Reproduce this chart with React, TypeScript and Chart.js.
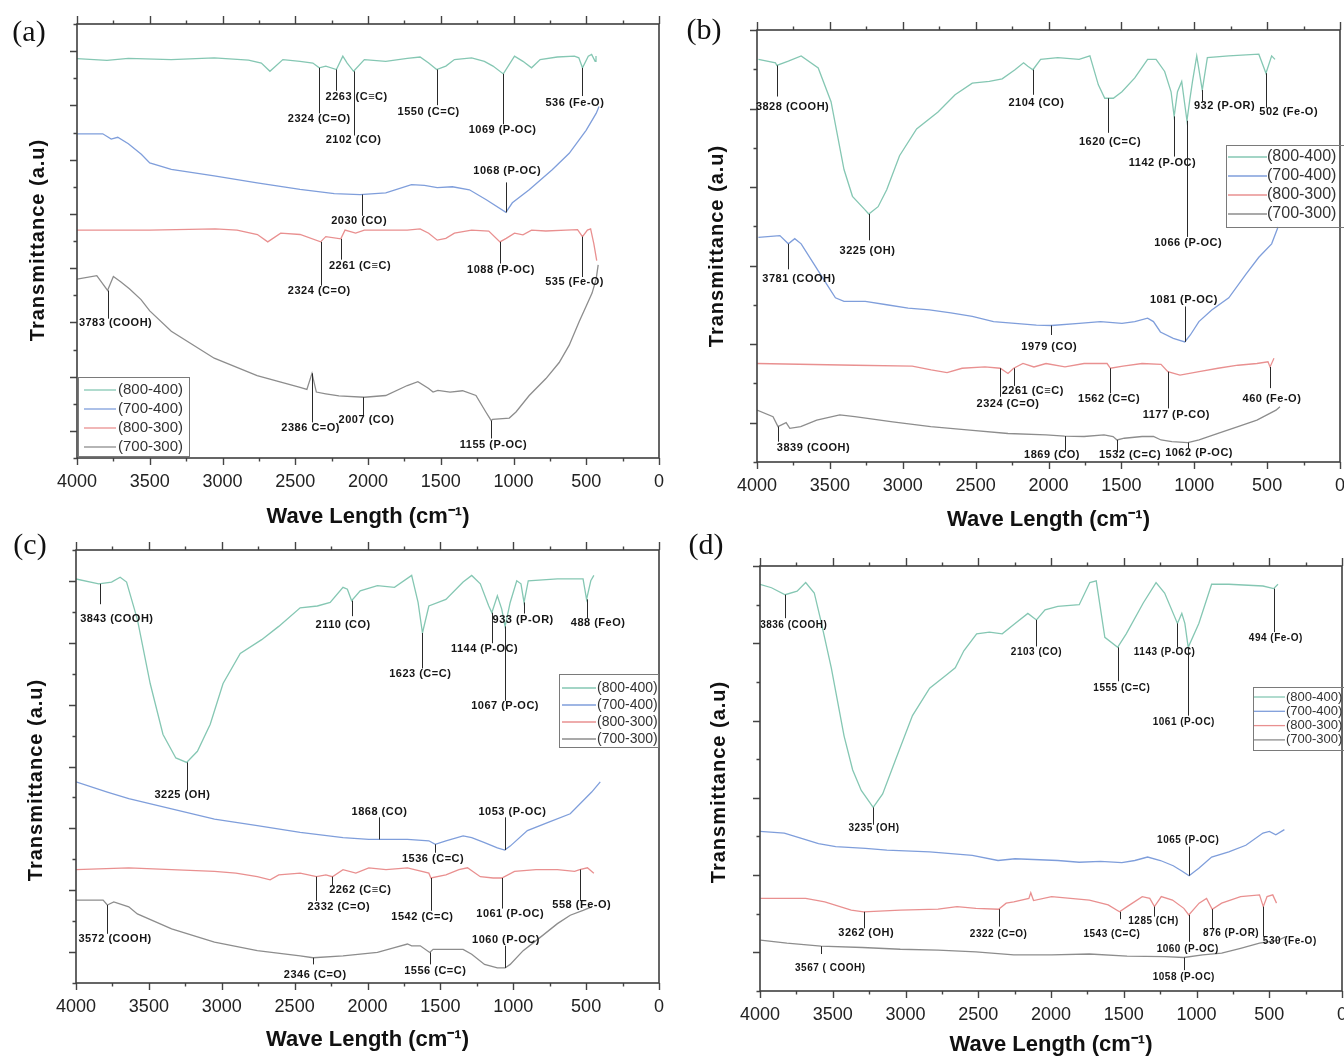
import React, { useEffect, useRef } from 'react';
import { Chart, registerables } from 'chart.js';

Chart.register(...registerables);

type Pt = [number, number];
// [line wavenumber, line start value, line end value, text, text centre wavenumber, text centre value, bold?]
type Ann = [number, number, number, string, number, number, boolean?];

const SERIES_LABELS = ['(800-400)', '(700-400)', '(800-300)', '(700-300)'];
const SERIES_COLORS = ['#85c7b3', '#7f9edb', '#e99090', '#8d8d8d'];
const X_MIN = 0;
const X_MAX = 4000;
const X_TICK_STEP = 250;
const X_LABEL_STEP = 500;
const X_TITLE = 'Wave Length (cm\u207B\u00B9)';
const Y_TITLE = 'Transmittance (a.u)';

// ---------- Panel (a) ----------
const A_800_400: Pt[] = [[4000,92],[3794,91.6],[3647,92.1],[3352,91.8],[3057,92.2],[2821,91.7],[2733,91],[2674,89.1],[2585,91.8],[2467,91.4],[2379,91],[2335,89.9],[2290,90.3],[2217,89.5],[2173,92.6],[2143,91],[2099,89.1],[2025,91.8],[1878,91.4],[1730,92.1],[1642,92.4],[1583,91],[1528,89.5],[1465,90.3],[1406,91.8],[1288,92.2],[1200,91.4],[1141,90.3],[1070,88.5],[993,92.6],[935,91.4],[876,89.9],[817,91.8],[699,92.4],[581,92.6],[551,92.2],[526,89.9],[486,92.6],[463,93],[439,91.4],[433,92.6]];
const A_700_400: Pt[] = [[4000,74.7],[3823,74.7],[3765,73.5],[3720,73.9],[3647,72.4],[3558,70],[3500,68],[3352,66.5],[3057,65],[2762,63.4],[2467,61.9],[2232,60.9],[2055,60.7],[1878,61.1],[1701,63],[1612,62.8],[1524,62.3],[1420,62.5],[1303,61.8],[1187,59.5],[1052,56.6],[1008,58.8],[892,61.8],[734,66.4],[617,70.2],[501,75.5],[432,79.4],[412,81]];
const A_800_300: Pt[] = [[4000,52.5],[3500,52.5],[3050,52.8],[2900,52.5],[2760,51.5],[2689,49.8],[2600,51.8],[2467,51.5],[2326,49.8],[2290,51],[2187,50.5],[2158,52.5],[2085,51.8],[2025,52.5],[1878,52.5],[1730,52.5],[1642,52.8],[1583,51.8],[1524,50.2],[1465,50.6],[1406,51.8],[1288,52.5],[1170,52.3],[1093,49.8],[1050,50.6],[993,51.8],[935,51.4],[876,52.5],[778,52.3],[640,52.5],[560,52.6],[526,51],[492,52.5],[470,52.8],[448,49.4],[428,45.5]];
const A_700_300: Pt[] = [[4000,41.2],[3864,42],[3790,38.6],[3750,41.8],[3700,40.6],[3640,39],[3560,36.5],[3500,33.9],[3352,29.2],[3057,23],[2762,19],[2467,16.3],[2420,15.8],[2385,19.5],[2355,15.2],[2290,14.8],[2200,14.3],[2025,14],[1878,14.4],[1730,16.7],[1657,17.6],[1583,16],[1553,15.2],[1520,15.6],[1436,15.2],[1350,15.5],[1258,14.4],[1190,10.6],[1153,8.6],[1144,8.9],[1029,9.2],[983,10.6],[892,14.4],[777,18.3],[686,22],[617,26],[549,31.4],[500,35],[460,38],[432,41.2],[418,44.5]];
const A_ANN: Ann[] = [
  [2335, 89.9, 79.4, '2324 (C=O)', 2335, 78.2],
  [2217, 89.5, 84.6, '2263 (C\u2261C)', 2078, 83.3],
  [2099, 89.1, 74.3, '2102 (CO)', 2099, 73.2],
  [1528, 89.5, 81.3, '1550 (C=C)', 1583, 79.8],
  [1070, 88.5, 76.9, '1069 (P-OC)', 1075, 75.6],
  [526, 89.9, 83.4, '536 (Fe-O)', 578, 81.9],
  [1052, 56.6, 63.5, '1068 (P-OC)', 1043, 66.2],
  [2040, 60.7, 55.8, '2030 (CO)', 2061, 54.7],
  [2326, 49.8, 39.7, '2324 (C=O)', 2335, 38.4],
  [2187, 50.5, 45.7, '2261 (C\u2261C)', 2055, 44.2],
  [1093, 49.8, 44.8, '1088 (P-OC)', 1086, 43.4],
  [526, 51, 41.7, '535 (Fe-O)', 580, 40.5],
  [3790, 38.6, 32.1, '3783 (COOH)', 3735, 31.1],
  [2385, 19.5, 8.2, '2386 C=O)', 2394, 7],
  [2031, 14, 9.9, '2007 (CO)', 2010, 8.7],
  [1153, 8.6, 4.5, '1155 (P-OC)', 1138, 3],
];

// ---------- Panel (b) ----------
const B_800_400: Pt[] = [[3990,93.2],[3873,92.4],[3864,91.8],[3785,92.8],[3697,94],[3580,91.2],[3492,83.4],[3403,67.7],[3345,61.5],[3257,58.3],[3233,57.4],[3169,59.1],[3110,63],[3022,70.9],[2905,77.1],[2758,81],[2641,85],[2523,87.7],[2406,88.1],[2318,88.7],[2230,90.8],[2171,92.4],[2142,91.6],[2107,90.8],[2054,93.2],[1936,93.6],[1790,93.2],[1716,94],[1658,87.3],[1614,84.2],[1590,84.2],[1555,84.2],[1496,85.7],[1408,88.9],[1320,93.2],[1262,93.2],[1203,90.4],[1159,85.7],[1138,80],[1115,85.7],[1086,88.1],[1062,82],[1050,79],[1030,84],[1012,88.1],[983,94],[945,86.1],[910,93.6],[763,94],[557,94.4],[508,90],[469,94],[446,93.2]];
const B_700_400: Pt[] = [[3990,52],[3843,52.4],[3785,50.5],[3741,51.7],[3697,50.5],[3609,45.8],[3521,41.1],[3462,38],[3403,37.2],[3257,37.2],[3110,36.4],[2963,35.6],[2817,35.2],[2670,34.5],[2523,33.7],[2377,32.5],[2230,32.1],[2083,31.7],[1980,31.6],[1790,32.1],[1643,32.5],[1496,32.1],[1408,32.5],[1320,33.3],[1280,32.5],[1232,30.1],[1144,28.6],[1065,27.8],[1027,29.4],[968,32.5],[880,35.2],[763,38],[645,43.5],[557,47.4],[469,50.5],[425,54.4]];
const B_800_300: Pt[] = [[4000,22.8],[3327,22.4],[2935,22.2],[2805,21.3],[2696,20.7],[2593,21.7],[2436,22.0],[2331,21.7],[2278,20.5],[2239,21.7],[2175,22.8],[2100,22.0],[2017,22.8],[1887,22.0],[1756,22.8],[1598,22.8],[1575,21.7],[1489,22.2],[1358,22.8],[1228,22.6],[1181,20.9],[1098,20.1],[967,20.9],[837,21.7],[700,22.4],[570,22.8],[494,23.2],[480,22.0],[453,24.0]];
const B_700_300: Pt[] = [[4000,12.0],[3890,10.5],[3856,8.2],[3800,9.1],[3775,7.8],[3700,8.2],[3590,9.7],[3432,10.9],[3329,10.5],[3069,9.3],[2808,8.2],[2540,7.4],[2278,6.6],[2017,6.3],[1890,6.0],[1756,5.9],[1619,6.3],[1557,5.9],[1530,5.1],[1480,5.5],[1358,5.9],[1280,5.9],[1228,5.1],[1153,4.7],[1044,4.5],[967,5.1],[837,6.6],[700,8.2],[570,9.7],[439,12.0],[412,12.8]];
const B_ANN: Ann[] = [
  [3864, 91.8, 84.6, '3828 (COOH)', 3756, 82.2],
  [3233, 57.4, 51.3, '3225 (OH)', 3242, 48.9],
  [2107, 90.8, 85, '2104 (CO)', 2083, 83],
  [1590, 84.2, 76.2, '1620 (C=C)', 1578, 74],
  [1138, 80, 70.7, '1142 (P-OC)', 1218, 69.3],
  [1050, 79, 52.1, '1066 (P-OC)', 1042, 50.7],
  [945, 86.1, 83.4, '932 (P-OR)', 792, 82.5],
  [508, 90, 82, '502 (Fe-O)', 352, 81],
  [3785, 50.5, 44.6, '3781 (COOH)', 3712, 42.3],
  [1980, 31.6, 29.4, '1979 (CO)', 1995, 26.6],
  [1065, 27.8, 36, '1081 (P-OC)', 1071, 37.6],
  [2331, 21.7, 15.1, '2324 (C=O)', 2278, 13.4],
  [2239, 21.7, 17.6, '2261 (C\u2261C)', 2108, 16.5],
  [1575, 21.7, 15.9, '1562 (C=C)', 1584, 14.7],
  [1181, 20.9, 12.4, '1177 (P-CO)', 1123, 10.9],
  [480, 22, 17.1, '460 (Fe-O)', 467, 14.7],
  [3856, 8.2, 4.7, '3839 (COOH)', 3612, 3.2],
  [1890, 6, 2.3, '1869 (CO)', 1976, 1.6],
  [1530, 5.1, 2.3, '1532 (C=C)', 1441, 1.6],
  [1044, 4.5, 3.2, '1062 (P-OC)', 967, 2.1],
];

// ---------- Panel (c) ----------
const C_800_400: Pt[] = [[4000,91.2],[3844,90.1],[3756,90.5],[3697,91.6],[3653,90.5],[3579,82.1],[3491,67.6],[3403,56.1],[3315,50.8],[3241,49.8],[3167,52.3],[3079,58.4],[2991,67.6],[2873,74.4],[2726,77.5],[2609,80.5],[2462,84.7],[2344,85.1],[2256,85.9],[2168,89.3],[2138,88.9],[2109,86.3],[2050,88.5],[1932,89.7],[1815,89.3],[1697,92],[1653,85.9],[1623,79],[1579,85.1],[1462,86.6],[1344,90.5],[1285,92],[1226,90.1],[1168,85.1],[1147,83.6],[1109,87.4],[1079,84.4],[1056,80.5],[1021,85.9],[976,90.8],[947,90.1],[926,85.9],[897,90.8],[697,91.2],[521,91.2],[497,86.6],[468,90.8],[447,92]];
const C_700_400: Pt[] = [[4000,45.4],[3785,43.1],[3638,41.6],[3344,39.3],[3050,37],[2756,35.5],[2462,34],[2168,32.8],[1991,32.4],[1918,32.4],[1726,32.4],[1579,32.1],[1535,31.3],[1462,32.1],[1344,33.2],[1285,32.8],[1197,31.7],[1109,30.5],[1059,30],[1021,30.9],[903,34.4],[756,36.3],[609,38.2],[462,43.1],[403,45.4]];
const C_800_300: Pt[] = [[4000,25.6],[3638,26],[3344,25.6],[3050,25.2],[2903,24.8],[2756,24],[2668,23.3],[2609,24.4],[2462,24.8],[2350,24],[2285,24.4],[2241,24],[2168,25.6],[2080,24.8],[1991,26],[1873,25.6],[1726,26],[1579,24.8],[1565,23.7],[1462,24.4],[1373,25.6],[1314,26],[1226,24],[1138,23.7],[1079,23.7],[991,25.2],[844,25.6],[697,25.6],[579,25.2],[544,25.6],[491,26],[447,24.8]];
const C_700_300: Pt[] = [[4000,18.7],[3814,18.7],[3785,17.6],[3741,18.3],[3638,17.2],[3579,15.6],[3344,12.2],[3050,9.2],[2756,7.3],[2462,6.1],[2373,5.7],[2168,6.1],[1932,6.9],[1815,8],[1726,8.8],[1697,8.4],[1638,8.4],[1573,6.9],[1550,7.6],[1432,7.6],[1344,7.6],[1285,6.5],[1197,4.2],[1109,3.4],[1056,3.4],[1021,4.2],[932,7.3],[815,10.3],[697,13.4],[609,15.3],[521,16.4],[462,17.2]];
const C_ANN: Ann[] = [
  [3838, 90.1, 85.5, '3843 (COOH)', 3720, 82.1],
  [3241, 49.8, 43.5, '3225 (OH)', 3270, 42.4],
  [2109, 86.3, 82.8, '2110 (CO)', 2167, 80.9],
  [1623, 79, 71, '1623 (C=C)', 1638, 69.8],
  [1147, 83.6, 76.7, '1144 (P-OC)', 1197, 75.3],
  [1056, 80.5, 63.7, '1067 (P-OC)', 1056, 62.6],
  [926, 85.9, 83.4, '933 (P-OR)', 932, 81.9],
  [497, 86.6, 82.4, '488 (FeO)', 418, 81.3],
  [1918, 32.4, 37.4, '1868 (CO)', 1918, 38.7],
  [1535, 31.3, 29.4, '1536 (C=C)', 1550, 28],
  [1059, 30, 37.4, '1053 (P-OC)', 1006, 38.5],
  [2350, 24, 18.5, '2332 (C=O)', 2197, 17.2],
  [2241, 24, 22.1, '2262 (C\u2261C)', 2050, 21],
  [1565, 23.7, 16.3, '1542 (C=C)', 1623, 14.9],
  [1079, 23.7, 16.8, '1061 (P-OC)', 1021, 15.6],
  [544, 25.6, 18.5, '558 (Fe-O)', 530, 17.6],
  [3785, 17.6, 11.1, '3572 (COOH)', 3732, 9.9],
  [2373, 5.7, 4.2, '2346 (C=O)', 2359, 1.9],
  [1573, 6.9, 4.2, '1556 (C=C)', 1535, 2.8],
  [1056, 3.4, 8.4, '1060 (P-OC)', 1050, 9.7],
];

// ---------- Panel (d) ----------
const D_800_400: Pt[] = [[4000,93.5],[3921,92.7],[3827,91.1],[3745,91.9],[3686,93.9],[3627,91.5],[3583,85.3],[3510,74.3],[3422,58.6],[3363,50.8],[3304,46.1],[3222,42.2],[3157,45.3],[3069,53.1],[2952,63.3],[2834,69.6],[2717,72.7],[2658,74.3],[2599,78.2],[2511,82.1],[2423,82.5],[2335,82.1],[2247,84.5],[2159,86.8],[2100,85.3],[2041,87.6],[1953,88.4],[1806,88.8],[1733,93.9],[1689,94.3],[1630,81.3],[1542,79],[1483,82.1],[1366,89.2],[1278,93.9],[1219,91.5],[1131,84.5],[1101,86.8],[1080,84.5],[1057,79],[984,84.5],[896,93.5],[778,93.5],[543,93.1],[470,92.5],[440,93.5]];
const D_700_400: Pt[] = [[4000,36.7],[3833,36.3],[3715,35.1],[3598,33.9],[3480,33.2],[3275,32.8],[3128,32.4],[2834,32],[2541,31.2],[2364,30],[2247,30.4],[1953,30],[1806,29.6],[1659,29.8],[1513,29.5],[1424,30],[1336,30.8],[1248,30],[1160,28.8],[1101,27.6],[1051,26.5],[984,28.2],[896,30.8],[778,32],[661,33.5],[543,36.3],[499,36.7],[455,35.9],[396,37.1]];
const D_800_300: Pt[] = [[3997,21.3],[3686,21.3],[3555,20.5],[3373,18.6],[3288,18.2],[3036,18.6],[2776,18.8],[2646,19.4],[2516,19.0],[2360,18.8],[2308,20.2],[2256,20.5],[2152,21.3],[2139,22.6],[2120,20.8],[1996,21.7],[1866,21.3],[1736,20.9],[1607,19.8],[1529,18.2],[1477,19.4],[1373,21.7],[1321,21.3],[1289,19.4],[1242,21.7],[1165,20.9],[1087,19.0],[1053,17.5],[982,20.2],[931,21.3],[892,18.8],[827,20.2],[697,21.7],[567,22.1],[541,19.4],[515,21.7],[476,22.1],[450,20.2]];
const D_700_300: Pt[] = [[3997,11.7],[3815,11.0],[3581,10.3],[3296,10.0],[3036,9.6],[2776,9.4],[2516,9.0],[2256,8.3],[1996,8.3],[1736,8.5],[1477,8.0],[1217,7.9],[1087,7.7],[957,8.3],[827,8.7],[697,9.8],[567,11.0],[437,11.7],[385,12.5]];
const D_ANN: Ann[] = [
  [3827, 91.1, 85.7, '3836 (COOH)', 3768, 84.1],
  [3222, 42.2, 38.2, '3235 (OH)', 3216, 37.5],
  [2100, 85.3, 79.2, '2103 (CO)', 2100, 77.8],
  [1542, 79, 71.2, '1555 (C=C)', 1513, 69.7],
  [1131, 84.5, 79, '1143 (P-OC)', 1219, 77.8],
  [1057, 79, 63.3, '1061 (P-OC)', 1087, 61.8],
  [470, 92.5, 82.5, '494 (Fe-O)', 455, 81],
  [1051, 26.5, 33.2, '1065 (P-OC)', 1057, 34.7],
  [3288, 18.2, 14.4, '3262 (OH)', 3270, 13.3, true],
  [2360, 18.8, 14.8, '2322 (C=O)', 2360, 13.1],
  [1529, 18.2, 16.5, '1543 (C=C)', 1581, 13.1],
  [1289, 19.4, 17.1, '1285 (CH)', 1295, 16.1],
  [1053, 17.5, 11.3, '1060 (P-OC)', 1060, 9.6],
  [892, 18.8, 14.4, '876 (P-OR)', 762, 13.3],
  [541, 19.4, 12.5, '530 (Fe-O)', 359, 11.5],
  [3581, 10.3, 8.5, '3567 ( COOH)', 3517, 5.2],
  [1087, 7.7, 4.8, '1058 (P-OC)', 1087, 3.1],
];

interface LegendCfg { x: number; y: number; w: number; h: number; lx1: number; lx2: number; tx: number; ry: number; rstep: number; font: number; }
interface PanelCfg {
  letter: string; left: number; top: number; w: number; h: number;
  area: { left: number; right: number; top: number; bottom: number };
  yMax: number;
  series: Pt[][]; ann: Ann[]; yIntervals: number; annFont: number;
  letterPos: [number, number]; xTitleY: number; yTitleX: number; yTitleY: number;
  legend: LegendCfg;
}

const FONT = '"Liberation Sans", Arial, Helvetica, sans-serif';

// canvases are wider/taller than their visible cell so that edge labels have room; the wrapper clips them
const PANELS: PanelCfg[] = [
  {
    letter: '(a)', left: 0, top: 0, w: 700, h: 545,
    area: { left: 77, right: 659, top: 24, bottom: 458 }, yMax: 100,
    series: [A_800_400, A_700_400, A_800_300, A_700_300], ann: A_ANN, yIntervals: 16, annFont: 11,
    letterPos: [29, 33], xTitleY: 517, yTitleX: 38, yTitleY: 240,
    legend: { x: 78, y: 377, w: 111, h: 79, lx1: 84, lx2: 116, tx: 118, ry: 390, rstep: 19, font: 15 },
  },
  {
    letter: '(b)', left: 672, top: 0, w: 700, h: 545,
    area: { left: 85, right: 668, top: 30, bottom: 462 }, yMax: 100,
    series: [B_800_400, B_700_400, B_800_300, B_700_300], ann: B_ANN, yIntervals: 11, annFont: 11,
    letterPos: [32, 31], xTitleY: 520, yTitleX: 45, yTitleY: 246,
    legend: { x: 554, y: 145, w: 118, h: 82, lx1: 556, lx2: 595, tx: 595, ry: 157, rstep: 19, font: 16 },
  },
  {
    letter: '(c)', left: 0, top: 528, w: 700, h: 529,
    area: { left: 76, right: 659, top: 22, bottom: 455 }, yMax: 97.74,
    series: [C_800_400, C_700_400, C_800_300, C_700_300], ann: C_ANN, yIntervals: 14, annFont: 11,
    letterPos: [30, 18], xTitleY: 512, yTitleX: 36, yTitleY: 252,
    legend: { x: 559, y: 146, w: 99, h: 73, lx1: 562, lx2: 596, tx: 597, ry: 160, rstep: 17, font: 14 },
  },
  {
    letter: '(d)', left: 672, top: 528, w: 700, h: 529,
    area: { left: 88, right: 670, top: 38, bottom: 463 }, yMax: 97.7,
    series: [D_800_400, D_700_400, D_800_300, D_700_300], ann: D_ANN, yIntervals: 11, annFont: 10,
    letterPos: [34, 18], xTitleY: 517, yTitleX: 47, yTitleY: 254,
    legend: { x: 581, y: 159, w: 95, h: 63, lx1: 582, lx2: 613, tx: 614, ry: 169, rstep: 14.3, font: 13 },
  },
];

function makeDecor(p: PanelCfg) {
  return {
    id: 'decor' + p.letter.replace(/[()]/g, ''),
    afterDraw(chart: any) {
      const { ctx, chartArea: a, scales } = chart;
      const xs = scales.x;
      const ys = scales.y;
      ctx.save();

      // tick marks (major every 500, minor every 250)
      ctx.strokeStyle = '#444';
      ctx.lineWidth = 1.4;
      ctx.beginPath();
      for (let v = X_MIN; v <= X_MAX; v += X_TICK_STEP) {
        const px = Math.round(xs.getPixelForValue(v)) + 0.5;
        const major = v % X_LABEL_STEP === 0;
        ctx.moveTo(px, a.bottom);
        ctx.lineTo(px, a.bottom + (major ? 7 : 3.5));
        ctx.moveTo(px, a.top);
        ctx.lineTo(px, a.top - (major ? 8 : 3.5));
      }
      for (let i = 0; i <= p.yIntervals; i++) {
        const py = Math.round(a.bottom - (i / p.yIntervals) * (a.bottom - a.top)) + 0.5;
        const major = i % 2 === 1;
        ctx.moveTo(a.left, py);
        ctx.lineTo(a.left - (major ? 7 : 3.5), py);
      }
      ctx.stroke();

      // frame
      ctx.strokeStyle = '#3f3f3f';
      ctx.lineWidth = 1.6;
      ctx.strokeRect(a.left, a.top, a.right - a.left, a.bottom - a.top);

      // annotations
      ctx.textAlign = 'center';
      ctx.textBaseline = 'middle';
      for (const an of p.ann) {
        const [w, y0, y1, text, tw, ty, bold] = an;
        const px = Math.round(xs.getPixelForValue(w)) + 0.5;
        ctx.strokeStyle = '#2a2a2a';
        ctx.lineWidth = 1;
        ctx.beginPath();
        ctx.moveTo(px, ys.getPixelForValue(y0));
        ctx.lineTo(px, ys.getPixelForValue(y1));
        ctx.stroke();
        ctx.fillStyle = '#151515';
        ctx.font = `bold ${bold ? p.annFont + 1 : p.annFont}px ${FONT}`;
        (ctx as any).letterSpacing = '0.5px';
        ctx.fillText(text, xs.getPixelForValue(tw), ys.getPixelForValue(ty));
      }
      (ctx as any).letterSpacing = '0px';

      // legend
      const L = p.legend;
      ctx.strokeStyle = '#7a7a7a';
      ctx.lineWidth = 1;
      ctx.strokeRect(L.x + 0.5, L.y + 0.5, L.w, L.h);
      ctx.font = `${L.font}px ${FONT}`;
      ctx.textAlign = 'left';
      ctx.textBaseline = 'middle';
      chart.data.datasets.forEach((ds: any, i: number) => {
        const yy = L.ry + i * L.rstep;
        ctx.strokeStyle = ds.borderColor;
        ctx.lineWidth = 1.3;
        ctx.beginPath();
        ctx.moveTo(L.lx1, yy);
        ctx.lineTo(L.lx2, yy);
        ctx.stroke();
        ctx.fillStyle = '#333';
        ctx.fillText(ds.label, L.tx, yy);
      });

      // panel letter
      ctx.fillStyle = '#111';
      ctx.font = `30px "Liberation Serif", "Times New Roman", serif`;
      ctx.textAlign = 'center';
      ctx.fillText(p.letter, p.letterPos[0], p.letterPos[1]);

      // x title
      ctx.font = `bold 22px ${FONT}`;
      ctx.fillText(X_TITLE, (a.left + a.right) / 2, p.xTitleY);

      // y title
      ctx.save();
      ctx.translate(p.yTitleX, p.yTitleY);
      ctx.rotate(-Math.PI / 2);
      ctx.font = `bold 20px ${FONT}`;
      (ctx as any).letterSpacing = '1px';
      ctx.fillText(Y_TITLE, 0, 0);
      ctx.restore();

      ctx.restore();
    },
  };
}

function buildConfig(p: PanelCfg): any {
  const noGrid = { display: false, drawOnChartArea: false, drawTicks: false };
  return {
    type: 'line',
    data: {
      datasets: p.series.map((s, i) => ({
        label: SERIES_LABELS[i],
        data: s.map(([x, y]) => ({ x, y })),
        borderColor: SERIES_COLORS[i],
        backgroundColor: SERIES_COLORS[i],
        borderWidth: 1.3,
        pointRadius: 0,
        tension: 0,
        fill: false,
        xAxisID: 'x',
        yAxisID: 'y',
      })),
    },
    options: {
      animation: false,
      responsive: false,
      devicePixelRatio: 1,
      events: [],
      layout: { autoPadding: false, padding: { left: 0, top: 0, bottom: 0, right: p.w - p.area.right } },
      plugins: { legend: { display: false }, tooltip: { enabled: false }, title: { display: false } },
      scales: {
        x: {
          type: 'linear', position: 'bottom', reverse: true, min: X_MIN, max: X_MAX,
          ticks: {
            stepSize: X_TICK_STEP, autoSkip: false, maxRotation: 0, padding: 13,
            color: '#222', font: { family: FONT, size: 18 },
            callback: (v: number) => (v % X_LABEL_STEP === 0 ? String(v) : ''),
          },
          grid: noGrid,
          border: { display: false },
          afterFit: (s: any) => { s.height = p.h - p.area.bottom; },
        },
        xTop: {
          type: 'linear', position: 'top', reverse: true, min: X_MIN, max: X_MAX,
          ticks: { display: false, stepSize: X_TICK_STEP, autoSkip: false },
          grid: noGrid,
          border: { display: false },
          afterFit: (s: any) => { s.height = p.area.top; },
        },
        y: {
          type: 'linear', position: 'left', min: 0, max: p.yMax,
          ticks: { display: false, stepSize: 10 },
          grid: noGrid,
          border: { display: false },
          afterFit: (s: any) => { s.width = p.area.left; },
        },
      },
    },
    plugins: [makeDecor(p)],
  };
}

function Panel({ p }: { p: PanelCfg }) {
  const ref = useRef<HTMLCanvasElement | null>(null);
  useEffect(() => {
    if (!ref.current) return;
    const chart = new Chart(ref.current, buildConfig(p));
    return () => chart.destroy();
  }, [p]);
  return (
    <canvas
      ref={ref}
      width={p.w}
      height={p.h}
      style={{ position: 'absolute', left: p.left, top: p.top, width: p.w, height: p.h }}
    />
  );
}

export default function App() {
  return (
    <div style={{ position: 'absolute', left: 0, top: 0, width: 1344, height: 1057, background: '#fff', overflow: 'hidden' }}>
      {PANELS.map((p) => (
        <Panel key={p.letter} p={p} />
      ))}
    </div>
  );
}
